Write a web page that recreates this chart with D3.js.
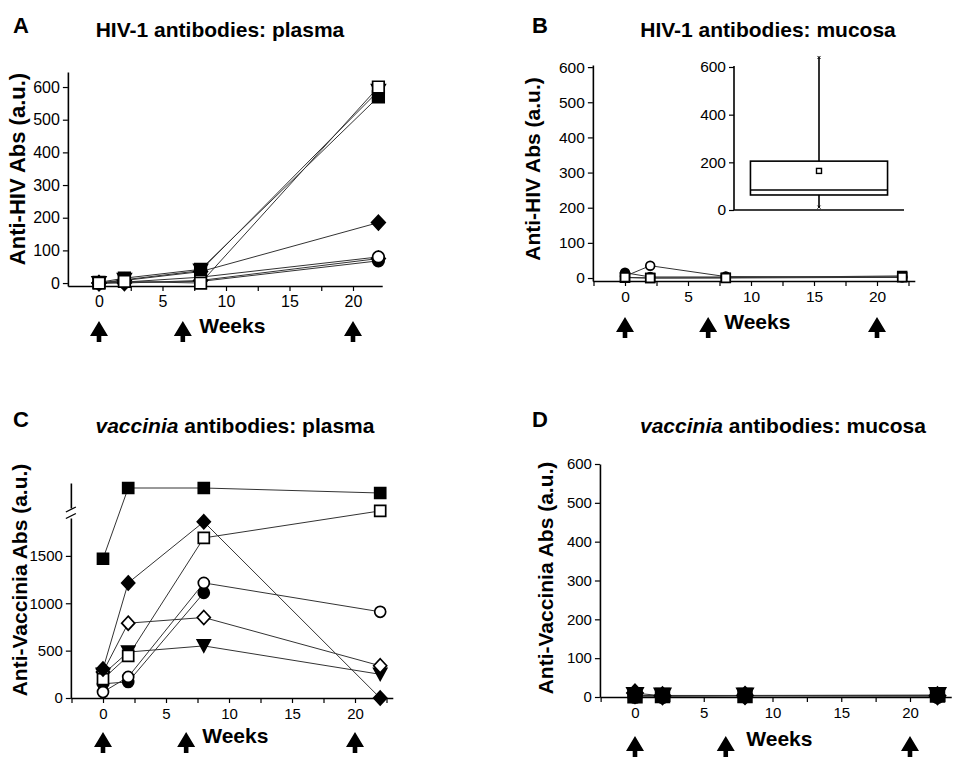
<!DOCTYPE html>
<html><head><meta charset="utf-8">
<script src="https://cdn.jsdelivr.net/npm/d3@7"></script>
<style>
body{margin:0;background:#fff}
svg text{font-family:"Liberation Sans",Arial,Helvetica,sans-serif;fill:#000}
</style>
</head><body>
<svg id="chart" width="960" height="759"></svg>
<script>
// ---------------- DATA ----------------
const weeks = [0, 2, 8, 22];
const boostWeeks = [0, 6.6, 20];
const xTickValues = [-2.5, 0, 2.5, 5, 7.5, 10, 12.5, 15, 17.5, 20, 22.5];
const xTickLabels = [0, 5, 10, 15, 20];
const yTicks600 = [0, 100, 200, 300, 400, 500, 600];
const yTicksVaccinia = [0, 500, 1000, 1500];
const insetTicks = [0, 200, 400, 600];

// A: HIV-1 antibodies, plasma
const hivPlasma = [
  {marker: "diamond",  filled: false, values: [0, 0, 8, 75]},
  {marker: "triangle", filled: true,  values: [0, 10, 38, 588]},
  {marker: "diamond",  filled: true,  values: [0, 8, 35, 185]},
  {marker: "circle",   filled: true,  values: [0, 2, 5, 68]},
  {marker: "circle",   filled: false, values: [0, 3, 18, 80]},
  {marker: "square",   filled: true,  values: [2, 15, 42, 570]},
  {marker: "square",   filled: false, values: [0, 5, 0, 600]}
];
// B: HIV-1 antibodies, mucosa
const hivMucosa = [
  {marker: "circle", filled: true,  values: [15, 3, 3, 3]},
  {marker: "square", filled: true,  values: [1, 0, 1, 6]},
  {marker: "circle", filled: false, values: [5, 35, 4, 2]},
  {marker: "square", filled: false, values: [2, 0, 0, 2]}
];
// B inset box plot: [min, q1, median, q3, max] and mean
const mucosaBoxCategory = ["mucosa"];
const mucosaBox = [12, 63, 84, 205, 640];
const mucosaMean = [164];
// C: vaccinia antibodies, plasma (values above 2000 are on the broken upper segment)
const vacPlasma = [
  {marker: "triangle", filled: true,  values: [250, 485, 550, 250]},
  {marker: "circle",   filled: true,  values: [150, 170, 1110, null]},
  {marker: "circle",   filled: false, values: [63, 222, 1215, 910]},
  {marker: "diamond",  filled: false, values: [275, 790, 850, 340]},
  {marker: "square",   filled: false, values: [200, 444, 1690, 1975]},
  {marker: "diamond",  filled: true,  values: [306, 1215, 1860, 0]},
  {marker: "square",   filled: true,  values: [1470, 4400, 4400, 3800]}
];
// D: vaccinia antibodies, mucosa
const vacMucosa = [
  {marker: "circle",   filled: true, values: [2, 2, 3, 2]},
  {marker: "triangle", filled: true, values: [4, 3, 3, 4]},
  {marker: "diamond",  filled: true, values: [10, 3, 4, 3]},
  {marker: "square",   filled: true, values: [3, 4, 4, 5]}
];

// ---------------- DRAWING ----------------
const svg = d3.select("#chart");
const fmt = d3.format("d");

function markerPath(type, s) {
  if (type === "square") { const h = 5.5 * s; return `M${-h},${-h}h${2*h}v${2*h}h${-2*h}Z`; }
  if (type === "diamond") { const h = 7 * s, w = 6.5 * s; return `M0,${-h}L${w},0L0,${h}L${-w},0Z`; }
  if (type === "triangle") { const w = 6.5 * s, h = 6 * s; return `M${-w},${-h}L${w},${-h}L0,${h}Z`; }
  const r = 5.5 * s;
  return `M${r},0A${r},${r} 0 1,1 ${-r},0A${r},${r} 0 1,1 ${r},0Z`;
}

function drawPanel(cfg) {
  const g = svg.append("g");
  const x = d3.scaleLinear().domain([cfg.xLo, cfg.xHi])
    .range([cfg.x0 + cfg.xLo * (cfg.x20 - cfg.x0) / 20, cfg.x0 + cfg.xHi * (cfg.x20 - cfg.x0) / 20]);
  const fs = cfg.tickFont;

  // x axis
  const xAxis = d3.axisBottom(x).tickValues(xTickValues.filter(t => t >= cfg.xLo && t <= cfg.xHi))
    .tickSize(5).tickSizeOuter(0).tickFormat(d => xTickLabels.includes(d) ? fmt(d) : "");
  const xa = g.append("g").attr("transform", `translate(0,${cfg.xAxisY})`).call(xAxis);
  xa.select(".domain").attr("stroke", "#000").attr("stroke-width", 1.6);
  xa.selectAll(".tick line").attr("stroke", "#000").attr("stroke-width", 1.2);
  xa.selectAll(".tick text").attr("font-size", fs).attr("y", 10).attr("dy", "0.71em")
    .style("font-family", '"Liberation Sans",Arial,sans-serif');

  // y axis (one or two segments)
  cfg.yAxes.forEach(ya => {
    const ax = d3.axisLeft(ya.scale).tickValues(ya.ticks).tickSize(5).tickSizeOuter(0).tickPadding(3).tickFormat(fmt);
    const gy = g.append("g").attr("transform", `translate(${x(cfg.xLo)},0)`).call(ax);
    gy.select(".domain").attr("stroke", "#000").attr("stroke-width", 1.6);
    gy.selectAll(".tick line").attr("stroke", "#000").attr("stroke-width", 1.2);
    gy.selectAll(".tick text").attr("font-size", fs)
      .style("font-family", '"Liberation Sans",Arial,sans-serif');
  });
  if (cfg.breakMarks) cfg.breakMarks(g, x(cfg.xLo));

  // series lines
  const line = d3.line().defined(d => d.v !== null).x(d => x(d.w)).y(d => cfg.yMap(d.v));
  cfg.series.forEach(s => {
    const pts = weeks.map((w, i) => ({w, v: s.values[i]}));
    g.append("path").datum(pts).attr("d", line)
      .attr("fill", "none").attr("stroke", "#333").attr("stroke-width", 1);
  });
  // markers
  cfg.series.forEach(s => {
    const pts = weeks.map((w, i) => ({w, v: s.values[i]})).filter(d => d.v !== null);
    g.selectAll(null).data(pts).enter().append("path")
      .attr("transform", d => `translate(${x(d.w)},${cfg.yMap(d.v)})`)
      .attr("d", markerPath(s.marker, cfg.markerScale))
      .attr("fill", s.filled ? "#000" : "#fff")
      .attr("stroke", "#000").attr("stroke-width", 1.7);
  });

  // boost arrows
  boostWeeks.forEach(bw => {
    const cx = x(bw), t = cfg.xAxisY + cfg.arrowTop;
    g.append("path")
      .attr("d", `M${cx},${t}L${cx + 9},${t + 15}L${cx + 2.3},${t + 15}L${cx + 2.3},${t + 21}L${cx - 2.3},${t + 21}L${cx - 2.3},${t + 15}L${cx - 9},${t + 15}Z`)
      .attr("fill", "#000");
  });
  g.append("text").attr("x", x(10.5)).attr("y", cfg.xAxisY + cfg.weeksDy)
    .attr("text-anchor", "middle").attr("font-size", 21).attr("font-weight", "bold").text("Weeks");

  // y label
  g.append("text").attr("transform", `translate(${cfg.yLabelX},${cfg.yLabelY}) rotate(-90)`)
    .attr("text-anchor", "middle").attr("font-size", cfg.yLabelFont).attr("font-weight", "bold").text(cfg.yLabel);

  // panel letter and title
  g.append("text").attr("x", cfg.letterX).attr("y", cfg.letterY)
    .attr("font-size", 22).attr("font-weight", "bold").text(cfg.letter);
  const tt = g.append("text").attr("x", cfg.titleX).attr("y", cfg.titleY)
    .attr("text-anchor", "middle").attr("font-size", 21).attr("font-weight", "bold");
  cfg.title.forEach(p => tt.append("tspan").attr("font-style", p.italic ? "italic" : "normal").text(p.t));
  return {g, x};
}

// Panel A
const yA = d3.scaleLinear().domain([-9, 646]).range([286, 72]);
drawPanel({
  x0: 99, x20: 353, xLo: -2.45, xHi: 22.3, xAxisY: 286, tickFont: 16,
  yAxes: [{scale: yA, ticks: yTicks600}], yMap: v => yA(v),
  series: hivPlasma, markerScale: 1.05, arrowTop: 35, weeksDy: 47,
  yLabel: "Anti-HIV Abs (a.u.)", yLabelX: 25, yLabelY: 169, yLabelFont: 22,
  letter: "A", letterX: 13, letterY: 33,
  title: [{t: "HIV-1 antibodies: plasma"}], titleX: 220, titleY: 37
});

// Panel B
const yB = d3.scaleLinear().domain([-8.5, 606]).range([281, 65]);
drawPanel({
  x0: 625, x20: 877, xLo: -2.55, xHi: 23, xAxisY: 281, tickFont: 15.5,
  yAxes: [{scale: yB, ticks: yTicks600}], yMap: v => yB(v),
  series: hivMucosa, markerScale: 0.8, arrowTop: 36, weeksDy: 48,
  yLabel: "Anti-HIV Abs (a.u.)", yLabelX: 540, yLabelY: 169, yLabelFont: 21,
  letter: "B", letterX: 532, letterY: 33,
  title: [{t: "HIV-1 antibodies: mucosa"}], titleX: 768, titleY: 37
});

// Panel B inset box plot
(function () {
  const gi = svg.append("g");
  const yI = d3.scaleLinear().domain([0, 600]).range([210, 67]);
  const xI = d3.scaleBand().domain(mucosaBoxCategory).range([734, 904]).paddingInner(0).paddingOuter(0.12);
  const ax = d3.axisLeft(yI).tickValues(insetTicks).tickSize(5).tickSizeOuter(0).tickPadding(3).tickFormat(fmt);
  const gy = gi.append("g").attr("transform", "translate(734,0)").call(ax);
  gy.select(".domain").attr("stroke", "#000").attr("stroke-width", 1.6).attr("d", "M0,66V210");
  gy.selectAll(".tick line").attr("stroke", "#000").attr("stroke-width", 1.2);
  gy.selectAll(".tick text").attr("font-size", 15.5).style("font-family", '"Liberation Sans",Arial,sans-serif');
  gi.append("line").attr("x1", 734).attr("x2", 904).attr("y1", yI(0)).attr("y2", yI(0))
    .attr("stroke", "#000").attr("stroke-width", 1.6);
  const [mn, q1, md, q3, mx] = mucosaBox;
  const c = mucosaBoxCategory[0];
  const cx = xI(c) + xI.bandwidth() / 2;
  gi.append("line").attr("x1", cx).attr("x2", cx).attr("y1", yI(q3)).attr("y2", yI(mx)).attr("stroke", "#000").attr("stroke-width", 1.6);
  gi.append("line").attr("x1", cx).attr("x2", cx).attr("y1", yI(q1)).attr("y2", yI(mn)).attr("stroke", "#000").attr("stroke-width", 1.6);
  gi.append("rect").attr("x", xI(c)).attr("width", xI.bandwidth()).attr("y", yI(q3)).attr("height", yI(q1) - yI(q3))
    .attr("fill", "none").attr("stroke", "#000").attr("stroke-width", 1.6);
  gi.append("line").attr("x1", xI(c)).attr("x2", xI(c) + xI.bandwidth()).attr("y1", yI(md)).attr("y2", yI(md))
    .attr("stroke", "#000").attr("stroke-width", 1.6);
  gi.append("rect").attr("x", cx - 2.5).attr("y", yI(mucosaMean[0]) - 2.5).attr("width", 5).attr("height", 5)
    .attr("fill", "#fff").attr("stroke", "#000").attr("stroke-width", 1.4);
  [mn, mx].forEach(v => {
    gi.append("path").attr("d", `M${cx - 1.5},${yI(v) - 1.5}L${cx + 1.5},${yI(v) + 1.5}M${cx + 1.5},${yI(v) - 1.5}L${cx - 1.5},${yI(v) + 1.5}`)
      .attr("stroke", "#000").attr("stroke-width", 1);
  });
})();

// Panel C (broken y axis)
const yCLow = d3.scaleLinear().domain([0, 1900]).range([698, 518]);
const yCHigh = d3.scaleLinear().domain([2000, 5000]).range([508, 483]);
drawPanel({
  x0: 103, x20: 355, xLo: -2.55, xHi: 23, xAxisY: 698, tickFont: 15,
  yAxes: [{scale: yCLow, ticks: yTicksVaccinia}, {scale: yCHigh, ticks: []}],
  yMap: v => v < 2000 ? yCLow(v) : yCHigh(v),
  breakMarks: (g, ax) => {
    [509.5, 516].forEach(yy => g.append("line").attr("x1", ax - 5).attr("x2", ax + 5)
      .attr("y1", yy + 2.5).attr("y2", yy - 2.5).attr("stroke", "#000").attr("stroke-width", 1.3));
  },
  series: vacPlasma, markerScale: 1.0, arrowTop: 34, weeksDy: 45,
  yLabel: "Anti-Vaccinia Abs (a.u.)", yLabelX: 27, yLabelY: 580, yLabelFont: 21,
  letter: "C", letterX: 13, letterY: 427,
  title: [{t: "vaccinia", italic: true}, {t: " antibodies: plasma"}], titleX: 235, titleY: 433
});

// Panel D
const yD = d3.scaleLinear().domain([0, 600]).range([697, 464]);
drawPanel({
  x0: 635, x20: 910, xLo: -2.55, xHi: 23, xAxisY: 697, tickFont: 15,
  yAxes: [{scale: yD, ticks: yTicks600}], yMap: v => yD(v),
  series: vacMucosa, markerScale: 1.25, arrowTop: 39, weeksDy: 49,
  yLabel: "Anti-Vaccinia Abs (a.u.)", yLabelX: 553, yLabelY: 578, yLabelFont: 21,
  letter: "D", letterX: 532, letterY: 427,
  title: [{t: "vaccinia", italic: true}, {t: " antibodies: mucosa"}], titleX: 783, titleY: 433
});
</script>
</body></html>
